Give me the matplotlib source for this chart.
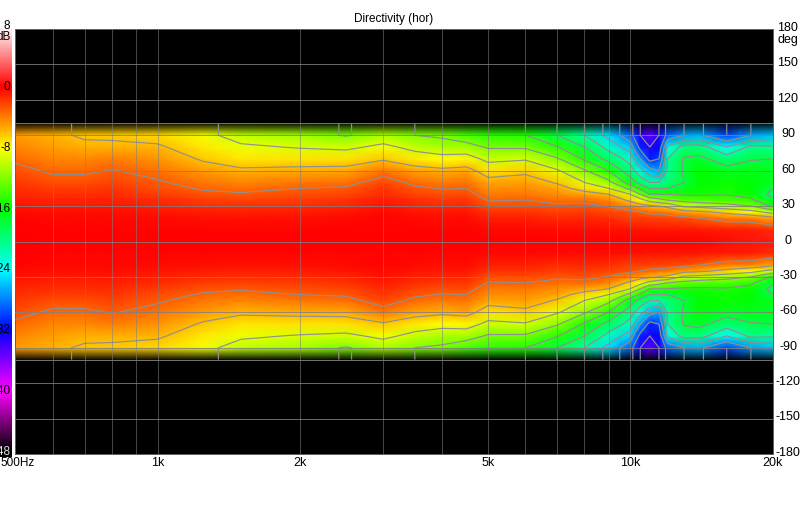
import numpy as np
import matplotlib
matplotlib.use("Agg")
import matplotlib.pyplot as plt
from matplotlib.colors import LinearSegmentedColormap

plt.rcParams['font.family'] = ['Liberation Sans', 'DejaVu Sans']

# frequencies (Hz) and off-axis angles (deg) of the table below
freqs = [500, 600, 700, 800, 1000, 1250, 1500, 2000, 2500, 3000, 3500, 4000, 4500,
         5000, 6000, 7000, 8000, 9000, 10000, 10500, 11000, 11500, 12000, 13000, 14000,
         16000, 18000, 20000]
angles = [0, 10, 20, 25, 30, 35, 40, 45, 50, 60, 70, 80, 90]

# one row per frequency, one value per angle (dB)
spl = [
    [0, 0, -.2, -.4, -.6, -.9, -1.2, -1.5, -1.8, -2.5, -3.3, -4.2, -5],
    [0, -.1, -.3, -.5, -.8, -1.1, -1.5, -1.9, -2.4, -3.3, -4.2, -5, -5.6],
    [0, -.1, -.3, -.5, -.8, -1.1, -1.5, -1.9, -2.4, -3.3, -4.3, -5.5, -6.3],
    [0, -.1, -.3, -.5, -.7, -1, -1.3, -1.7, -2.1, -2.9, -4, -5.5, -6.4],
    [0, -.1, -.4, -.7, -1, -1.4, -1.9, -2.4, -2.8, -3.6, -4.6, -5.7, -6.8],
    [0, -.1, -.5, -.9, -1.3, -1.9, -2.6, -3.2, -3.8, -4.9, -6.3, -7.4, -8.4],
    [0, -.1, -.6, -1, -1.5, -2.1, -2.8, -3.5, -4.2, -5.6, -7.3, -8.6, -10],
    [0, -.1, -.5, -.9, -1.3, -1.9, -2.5, -3, -3.8, -5.4, -7.2, -9.2, -11],
    [0, -.1, -.4, -.7, -1.1, -1.6, -2.2, -2.8, -3.5, -5.3, -7.2, -9.6, -12.2],
    [0, -.1, -.2, -.4, -.6, -.9, -1.3, -1.7, -2.2, -3.8, -6.3, -8.3, -10.8],
    [0, -.1, -.4, -.7, -1, -1.5, -2.1, -2.7, -3.4, -5.1, -7.4, -9.9, -12],
    [0, -.1, -.5, -.8, -1.2, -1.8, -2.4, -3.1, -3.9, -5.5, -8, -10.8, -12.4],
    [0, -.1, -.4, -.7, -1.1, -1.7, -2.3, -3, -3.7, -5.2, -7.7, -10.9, -13.7],
    [0, -.3, -1, -1.6, -2.4, -3.1, -3.9, -4.5, -5.2, -7.1, -9.8, -12.3, -14.6],
    [0, -.3, -1, -1.6, -2.4, -3, -3.8, -4.4, -5, -6.5, -9.3, -12.4, -15],
    [0, -.4, -1.3, -2, -2.7, -3.5, -4.4, -5.2, -6.2, -8.7, -11.7, -14.8, -18],
    [0, -.4, -1.2, -1.8, -2.6, -3.4, -5.1, -6.9, -9, -11.7, -15.4, -18, -21],
    [0, -.5, -1.5, -2.2, -3.1, -4.2, -6, -9, -11.2, -15.1, -19, -22, -25],
    [0, -.6, -2, -2.6, -4.3, -6.5, -9, -12.8, -16.5, -19.8, -22.1, -25.5, -29],
    [0, -.6, -2, -3, -5, -8, -12, -15.5, -19, -23, -27, -31, -33],
    [0, -.7, -2.1, -3.4, -5.6, -10, -15, -18, -21, -26, -31, -33, -35],
    [0, -.7, -2.1, -3.6, -6.1, -11, -15, -18, -21, -27, -30, -32, -33],
    [0, -.7, -2.2, -3.9, -6.7, -12, -15, -18, -19.5, -20.5, -21, -23.5, -29],
    [0, -.7, -2.5, -5, -9.6, -12.8, -15.4, -16.9, -18, -17.6, -17.7, -19.8, -27],
    [0, -.8, -3, -5.5, -10, -13.4, -15.4, -15.8, -16, -16, -17.3, -19.7, -26.5],
    [.3, -.9, -4, -6.7, -11, -13.6, -15.2, -15.5, -15.7, -17, -19.5, -24, -30],
    [.5, -1, -4.2, -8, -12, -14.5, -15.8, -16, -16.2, -16.8, -18.2, -20.3, -27],
    [.6, -1.5, -5.3, -10, -15.5, -17.5, -18.8, -18, -17, -17, -18, -20.5, -26],
]

contour_levels = [-36, -33, -30, -27, -24, -21, -18, -15, -12, -9, -6, -3]
minor_freqs = [600, 700, 800, 900, 3000, 4000, 6000, 7000, 8000, 9000]
major_freqs = [1000, 2000, 5000, 10000]
freq_ticks = [500, 1000, 2000, 5000, 10000, 20000]
freq_labels = ['500Hz', '1k', '2k', '5k', '10k', '20k']
deg_ticks = [180, 150, 120, 90, 60, 30, 0, -30, -60, -90, -120, -150, -180]
db_ticks = [8, 0, -8, -16, -24, -32, -40, -48]

# same colours as the scale on the left
cmap = LinearSegmentedColormap.from_list('directivity', [
    (0 / 56, '#000000'), (8 / 56, '#ff00ff'), (16 / 56, '#0000ff'), (24 / 56, '#00ffff'),
    (32 / 56, '#00ff00'), (40 / 56, '#ffff00'), (48 / 56, '#ff0000'), (56 / 56, '#ffffff')], N=512)

PX = 0.72  # one pixel in points at dpi 100
W, H = 801, 521
fig = plt.figure(figsize=(W / 100, H / 100), dpi=100, facecolor='white')
ax = fig.add_axes([15.5 / W, 1 - 454 / H, 757 / W, 425 / H], facecolor='black')

# mirror the half table to both sides, edge row repeated out to where the data stops
half = np.array(spl).T
half = np.vstack([half, half[-1]])
half_angles = np.array(angles + [100])
z = np.vstack([half[:0:-1], half])
y = np.concatenate([-half_angles[:0:-1], half_angles])

ax.pcolormesh(freqs, y, z, cmap=cmap, vmin=-48, vmax=8, shading='gouraud', zorder=1)

# black fade over the outermost 10 degrees
fade_y = np.linspace(89, 101, 15)
fade_alpha = np.linspace(0.03, 1.0, 14)[:, None]
for sign in (1, -1):
    ax.pcolormesh([500, 20000], np.sort(sign * fade_y), np.zeros((14, 1)), cmap='gray',
                  vmin=0, vmax=1, alpha=fade_alpha if sign == 1 else fade_alpha[::-1],
                  shading='flat', linewidth=0, antialiased=False, zorder=2)

ax.contour(freqs, y, z, levels=contour_levels, colors='#909090', linewidths=0.85,
           linestyles='solid', zorder=3)

ax.set_xscale('log')
ax.set_xlim(500, 20000)
ax.set_ylim(-180, 180)

for f in minor_freqs + major_freqs:
    ax.axvline(f, color='#808080', alpha=0.55, lw=PX, zorder=4)
for d in deg_ticks[1:-1]:
    ax.axhline(d, color='#808080', alpha=0.8, lw=PX, zorder=4)
for d in (100.5, -100.5):
    ax.axhline(d, color='#707070', lw=PX, zorder=4)

ax.set_xticks(freq_ticks)
ax.set_xticklabels([])
ax.minorticks_off()
ax.set_yticks([])
ax.tick_params(length=0)
for s in ax.spines.values():
    s.set_color('#606060')
    s.set_linewidth(PX)

fig.text(394 / W, 1 - 19 / H, 'Directivity (hor)', ha='center', va='center', fontsize=8.5)

# tick labels in pixel places, the left scale runs off the figure edge like the original
for f, lab in zip(freq_ticks, freq_labels):
    if lab == '500Hz':
        fig.text(0.5 / W, 1 - 463 / H, lab, ha='left', va='center', fontsize=8.5)
        continue
    px = 15.5 + 757 * np.log(f / 500) / np.log(40)
    fig.text(px / W, 1 - 463 / H, lab, ha='center', va='center', fontsize=9)
for d in deg_ticks:
    fig.text(788 / W, 1 - (240.5 - d * 35.4 / 30) / H, str(d), ha='center', va='center', fontsize=9)
fig.text(788 / W, 1 - 40 / H, 'deg', ha='center', va='center', fontsize=9)

# dB scale
cax = fig.add_axes([0, 1 - 457 / H, 12 / W, 430 / H])
cax.imshow(np.linspace(7.8, -48.6, 430)[:, None], cmap=cmap, vmin=-48, vmax=8, aspect='auto',
           extent=[0, 1, -48.6, 7.8])
cax.axis('off')
for d in db_ticks:
    py = 87 - d * 60.8 / 8
    color = '#e0e0e0' if d == -48 else 'black'
    fig.text(10.5 / W, 1 - py / H, str(d), ha='right', va='center', fontsize=8.5, color=color, zorder=5)
fig.text(10.5 / W, 1 - 37 / H, 'dB', ha='right', va='center', fontsize=8.5, zorder=5)

fig.savefig('out.png', dpi=100)
